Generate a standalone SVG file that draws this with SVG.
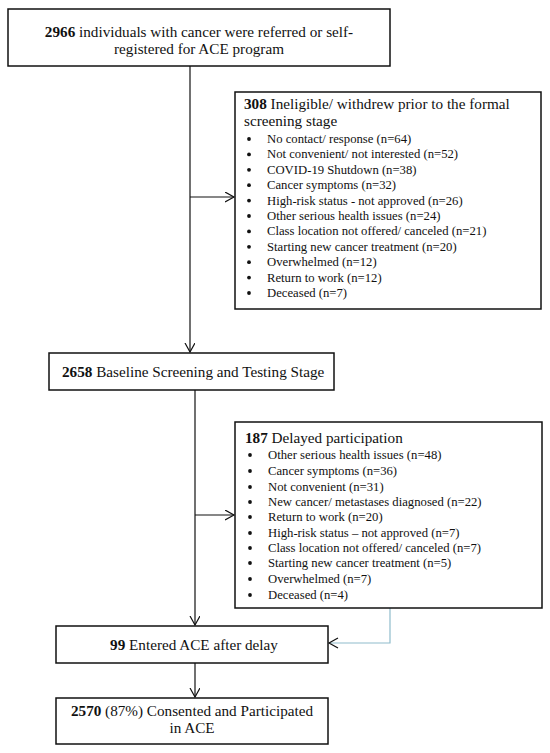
<svg xmlns="http://www.w3.org/2000/svg" width="550" height="753" viewBox="0 0 550 753">
<style>
.box{fill:#fff;stroke:#111;stroke-width:1.5}
.t{font-family:"Liberation Serif","Times New Roman",serif;font-size:15.2px;fill:#111}
.s{font-family:"Liberation Serif","Times New Roman",serif;font-size:12.7px;fill:#111}
.b{font-weight:bold}
.c{stroke:#111;stroke-width:1.2;fill:none}
.cb{stroke:#8fbccc;stroke-width:1.2;fill:none}
.d{fill:#111}
</style>
<defs>
<marker id="ah" markerUnits="userSpaceOnUse" markerWidth="12" markerHeight="12" refX="9" refY="5" orient="auto" viewBox="0 0 12 12">
<path d="M0,0 L9,5 L0,10" fill="none" stroke="#111" stroke-width="1.2"/>
</marker>
</defs>
<rect width="550" height="753" fill="#fff"/>
<g id="connectors">
<line class="c" x1="190" y1="66" x2="190" y2="352" marker-end="url(#ah)"/>
<line class="c" x1="190" y1="197" x2="234" y2="197" marker-end="url(#ah)"/>
<line class="c" x1="195" y1="390" x2="195" y2="625" marker-end="url(#ah)"/>
<line class="c" x1="195" y1="515" x2="234" y2="515" marker-end="url(#ah)"/>
<line class="c" x1="195" y1="663" x2="195" y2="697" marker-end="url(#ah)"/>
<polyline class="cb" points="390,608 390,643 329,643"/>
<path d="M338,638 L329,643 L338,648" fill="none" stroke="#111" stroke-width="1.2"/>
</g>
<g id="n1">
<rect class="box" x="8" y="9" width="382" height="57"/>
<text class="t" x="199" y="37" text-anchor="middle"><tspan class="b">2966</tspan> individuals with cancer were referred or self-</text>
<text class="t" x="199" y="54" text-anchor="middle">registered for ACE program</text>
</g>
<g id="n308">
<rect class="box" x="235" y="92" width="306" height="217"/>
<text class="t" x="244" y="109"><tspan class="b">308</tspan> Ineligible/ withdrew prior to the formal</text>
<text class="t" x="244" y="126">screening stage</text>
<g class="d">
<circle cx="249" cy="139" r="1.9"/><circle cx="249" cy="154.4" r="1.9"/><circle cx="249" cy="169.8" r="1.9"/><circle cx="249" cy="185.2" r="1.9"/><circle cx="249" cy="200.6" r="1.9"/><circle cx="249" cy="216" r="1.9"/><circle cx="249" cy="231.4" r="1.9"/><circle cx="249" cy="246.8" r="1.9"/><circle cx="249" cy="262.2" r="1.9"/><circle cx="249" cy="277.6" r="1.9"/><circle cx="249" cy="293" r="1.9"/>
</g>
<g class="s">
<text x="267" y="143">No contact/ response (n=64)</text>
<text x="267" y="158.4">Not convenient/ not interested (n=52)</text>
<text x="267" y="173.8">COVID-19 Shutdown (n=38)</text>
<text x="267" y="189.2">Cancer symptoms (n=32)</text>
<text x="267" y="204.6">High-risk status - not approved (n=26)</text>
<text x="267" y="220">Other serious health issues (n=24)</text>
<text x="267" y="235.4">Class location not offered/ canceled (n=21)</text>
<text x="267" y="250.8">Starting new cancer treatment (n=20)</text>
<text x="267" y="266.2">Overwhelmed (n=12)</text>
<text x="267" y="281.6">Return to work (n=12)</text>
<text x="267" y="297">Deceased (n=7)</text>
</g>
</g>
<g id="n2658">
<rect class="box" x="49" y="353" width="285" height="37"/>
<text class="t" x="62" y="377"><tspan class="b">2658</tspan> Baseline Screening and Testing Stage</text>
</g>
<g id="n187">
<rect class="box" x="235" y="422" width="307" height="186"/>
<text class="t" x="245" y="443"><tspan class="b">187</tspan> Delayed participation</text>
<g class="d">
<circle cx="250" cy="455" r="1.9"/><circle cx="250" cy="471" r="1.9"/><circle cx="250" cy="487" r="1.9"/><circle cx="250" cy="502" r="1.9"/><circle cx="250" cy="517" r="1.9"/><circle cx="250" cy="533" r="1.9"/><circle cx="250" cy="548" r="1.9"/><circle cx="250" cy="563" r="1.9"/><circle cx="250" cy="579" r="1.9"/><circle cx="250" cy="595" r="1.9"/>
</g>
<g class="s">
<text x="268" y="459">Other serious health issues (n=48)</text>
<text x="268" y="475">Cancer symptoms (n=36)</text>
<text x="268" y="491">Not convenient (n=31)</text>
<text x="268" y="506">New cancer/ metastases diagnosed (n=22)</text>
<text x="268" y="521">Return to work (n=20)</text>
<text x="268" y="537">High-risk status – not approved (n=7)</text>
<text x="268" y="552">Class location not offered/ canceled (n=7)</text>
<text x="268" y="567">Starting new cancer treatment (n=5)</text>
<text x="268" y="583">Overwhelmed (n=7)</text>
<text x="268" y="599">Deceased (n=4)</text>
</g>
</g>
<g id="n99">
<rect class="box" x="56" y="626" width="272" height="37"/>
<text class="t" x="194" y="650" text-anchor="middle"><tspan class="b">99</tspan> Entered ACE after delay</text>
</g>
<g id="n2570">
<rect class="box" x="56" y="698" width="272" height="46"/>
<text class="t" x="192" y="716" text-anchor="middle"><tspan class="b">2570</tspan> (87%) Consented and Participated</text>
<text class="t" x="192" y="733" text-anchor="middle">in ACE</text>
</g>
</svg>
